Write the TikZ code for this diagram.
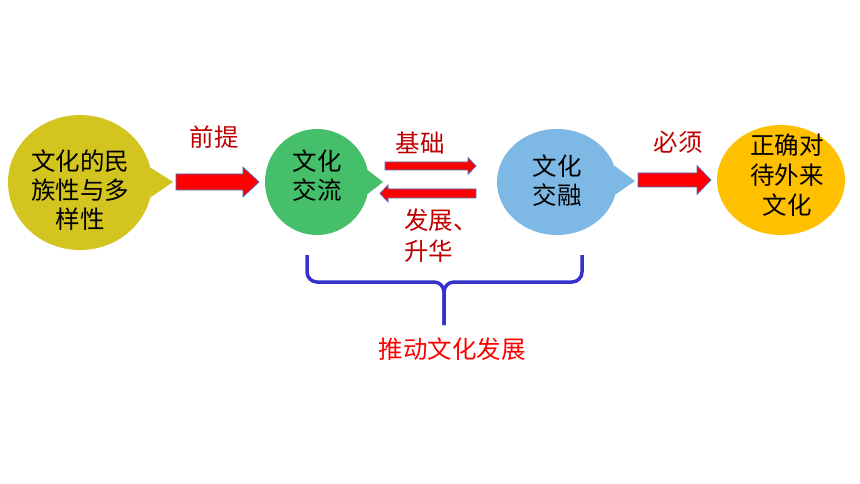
\documentclass[tikz,border=0pt]{standalone}
\usepackage{fontspec}
\newfontfamily\cjk{Noto Sans CJK SC}
\usetikzlibrary{calc,shapes.geometric}
\definecolor{olivebub}{RGB}{211,196,31}
\definecolor{greenbub}{RGB}{69,191,105}
\definecolor{bluebub}{RGB}{126,185,229}
\definecolor{orangebub}{RGB}{255,192,0}
\definecolor{darkred}{RGB}{192,0,0}
\definecolor{arrowedge}{RGB}{68,114,196}
\definecolor{bracecol}{RGB}{51,51,204}
\tikzset{
  bubble/.style={ellipse, inner sep=0pt, draw=none},
  bubtext/.style={font=\cjk\fontsize{24.5}{29}\selectfont, align=center, text=black, inner sep=0pt},
  lab/.style={font=\cjk\fontsize{24.5}{31}\selectfont, text=darkred, inner sep=0pt},
  redarrow/.style={fill=red, draw=arrowedge, line width=0.7pt, line join=miter},
  bracestyle/.style={draw=bracecol, line width=3.5pt, rounded corners=10pt}
}
% name, from, to, shaft half, head half, head length
\newcommand{\blockarr}[6]{%
  \coordinate (#1h) at ($(#3)!#6!(#2)$);
  \filldraw[redarrow] ($(#2)!#4!90:(#3)$) -- ($(#1h)!#4!90:(#3)$) -- ($(#1h)!#5!90:(#3)$)
    -- (#3) -- ($(#1h)!#5!-90:(#3)$) -- ($(#1h)!#4!-90:(#3)$) -- ($(#2)!#4!-90:(#3)$) -- cycle;
}
\begin{document}
\begin{tikzpicture}[x=1pt,y=-1pt]
\fill[white] (0,0) rectangle (860,484);
\useasboundingbox (0,0) rectangle (860,484);

% bubbles
\node[bubble, fill=olivebub, minimum width=144pt, minimum height=135pt] (b1) at (80,182.5) {};
\coordinate (t1) at (173,182);
\fill[olivebub] (b1.12) -- (t1) -- (b1.-12) -- cycle;
\node[bubtext] (b1t) at (80,190) {文化的民\\族性与多\\样性};

\node[bubble, fill=greenbub, minimum width=104pt, minimum height=106pt] (b2) at (317,182) {};
\coordinate (t2) at (383,182);
\fill[greenbub] (b2.13) -- (t2) -- (b2.-13) -- cycle;
\node[bubtext] (b2t) at (317,176) {文化\\交流};

\node[bubble, fill=bluebub, minimum width=120pt, minimum height=106pt] (b3) at (557,182) {};
\coordinate (t3) at (635,181);
\fill[bluebub] (b3.16) -- (t3) -- (b3.-12) -- cycle;
\node[bubtext] (b3t) at (557,180.5) {文化\\交融};

\node[bubble, fill=orangebub, minimum width=128pt, minimum height=110pt] (b4) at (781,180) {};
\node[bubtext, font=\cjk\fontsize{24.5}{30}\selectfont] (b4t) at (787,175) {正确对\\待外来\\文化};

% arrows
\coordinate (a1s) at (176,182);
\coordinate (a1e) at (259,182);
\blockarr{a1}{a1s}{a1e}{8pt}{15pt}{16pt}
\coordinate (a2s) at (385,166);
\coordinate (a2e) at (476,166);
\blockarr{a2}{a2s}{a2e}{4pt}{8.5pt}{8pt}
\coordinate (a3s) at (476,193.5);
\coordinate (a3e) at (380,193.5);
\blockarr{a3}{a3s}{a3e}{4.5pt}{8.5pt}{8pt}
\coordinate (a4s) at (638,180);
\coordinate (a4e) at (711,180);
\blockarr{a4}{a4s}{a4e}{7pt}{14.5pt}{14pt}

% labels
\node[lab] (l1) at (214,137) {前提};
\node[lab] (l2) at (420,143) {基础};
\node[lab] (l3) at (678,142) {必须};
\node[lab, align=left, anchor=west] (l4) at (404,235.5) {发展、\\升华};

% brace
\coordinate (brl) at (307,255);
\coordinate (brr) at (582,255);
\coordinate (brm) at (444,282);
\coordinate (brb) at (444,325);
\draw[bracestyle] (brl) -- (brl |- brm) -- (brm) -- (brb);
\draw[bracestyle] (brr) -- (brr |- brm) -- (brm) -- (brb);
\node[lab, text=red] (l5) at (452,349) {推动文化发展};
\end{tikzpicture}
\end{document}
